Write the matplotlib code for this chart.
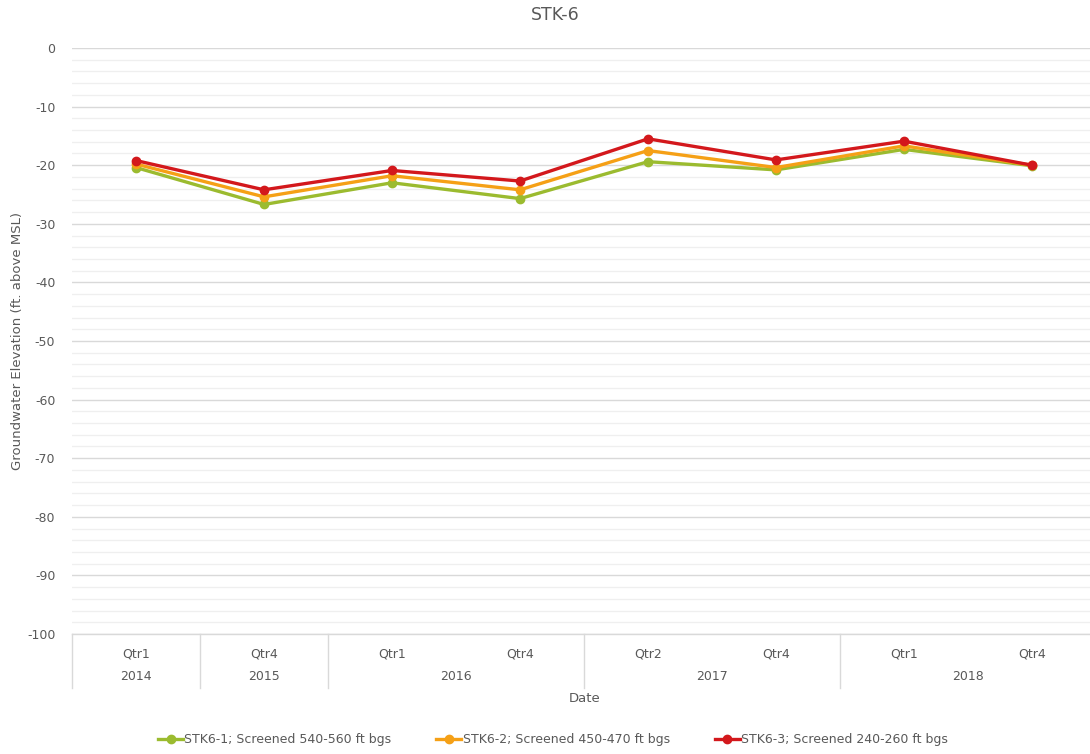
import matplotlib
matplotlib.use("Agg")
import matplotlib.pyplot as plt
import matplotlib.transforms as mtransforms
from matplotlib.ticker import MultipleLocator

plt.rcParams["axes.unicode_minus"] = False

# Sampling events (quarter / year) along the category axis
quarters = ["Qtr1", "Qtr4", "Qtr1", "Qtr4", "Qtr2", "Qtr4", "Qtr1", "Qtr4"]
years = ["2014", "2015", "2016", "2017", "2018"]
year_spans = [(0, 0), (1, 1), (2, 3), (4, 5), (6, 7)]

# Groundwater elevations (ft above MSL)
stk6_1 = [-20.4, -26.7, -23.0, -25.7, -19.4, -20.8, -17.3, -20.1]
stk6_2 = [-19.8, -25.4, -21.8, -24.2, -17.5, -20.4, -16.7, -20.0]
stk6_3 = [-19.2, -24.2, -20.9, -22.7, -15.5, -19.1, -15.9, -20.0]

series = [
    ("STK6-1; Screened 540-560 ft bgs", stk6_1, "#9bbb2f"),
    ("STK6-2; Screened 450-470 ft bgs", stk6_2, "#f5a016"),
    ("STK6-3; Screened 240-260 ft bgs", stk6_3, "#d3181c"),
]

text_gray = "#595959"
W, H = 1090, 754
fig = plt.figure(figsize=(W / 100, H / 100), dpi=100)
# plot area in pixel coordinates: left 72, right 1096, top 48, bottom 634
ax = fig.add_axes([72 / W, 1 - 634 / H, (1096 - 72) / W, (634 - 48) / H])

x = list(range(len(quarters)))
for label, vals, color in series:
    ax.plot(x, vals, color=color, lw=2.4, marker="o", ms=6, label=label,
            solid_joinstyle="round", zorder=3)

ax.set_xlim(-0.5, len(quarters) - 0.5)
ax.set_ylim(-100, 0)
ax.yaxis.set_major_locator(MultipleLocator(10))
ax.yaxis.set_minor_locator(MultipleLocator(2))
ax.grid(which="major", axis="y", color="#d9d9d9", lw=1.0)
ax.grid(which="minor", axis="y", color="#efefef", lw=0.9)
ax.set_axisbelow(True)
for s in ["top", "right", "left"]:
    ax.spines[s].set_visible(False)
ax.spines["bottom"].set_color("#d9d9d9")
ax.spines["bottom"].set_linewidth(1.0)

ax.tick_params(axis="y", which="both", length=0, colors=text_gray, labelsize=9, pad=12)
ax.tick_params(axis="x", length=0, colors=text_gray, labelsize=9, pad=10)
ax.set_xticks(x)
ax.set_xticklabels(quarters)

# year row and group dividers below the axis
trans = mtransforms.blended_transform_factory(ax.transData, ax.transAxes)
px = 1 / (634 - 48)
for yr, (a, b) in zip(years, year_spans):
    ax.text((a + b) / 2, -43 * px, yr, transform=trans, ha="center", va="center",
            color=text_gray, fontsize=9)
bounds = [-0.5] + [b + 0.5 for _, b in year_spans]
for bx in bounds:
    ax.plot([bx, bx], [0, -54 * px], transform=trans, color="#d9d9d9", lw=1.0,
            clip_on=False)

fig.text(585 / W, 1 - 699 / H, "Date", ha="center", va="center", color=text_gray,
         fontsize=9.5)
fig.text(18 / W, 1 - 341 / H, "Groundwater Elevation (ft. above MSL)", rotation=90,
         ha="center", va="center", color=text_gray, fontsize=9.5)
fig.text(555 / W, 1 - 15 / H, "STK-6", ha="center", va="center", color=text_gray,
         fontsize=12.5)

leg = fig.legend(loc="center", bbox_to_anchor=(553 / W, 1 - 740 / H), ncol=3,
                 frameon=False, handlelength=2.0, handletextpad=0.1,
                 columnspacing=3.6, prop={"size": 9})
for t in leg.get_texts():
    t.set_color(text_gray)

fig.savefig("out.png", dpi=100, facecolor="white")
